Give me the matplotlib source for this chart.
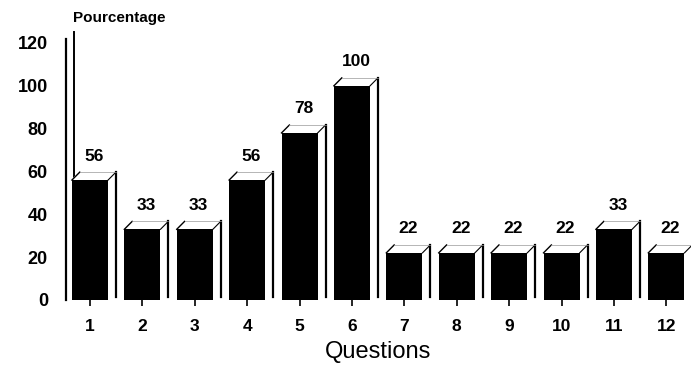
import matplotlib
matplotlib.use("Agg")
import matplotlib.pyplot as plt
import numpy as np

# Pourcentage de réponses par question
questions = ["1", "2", "3", "4", "5", "6", "7", "8", "9", "10", "11", "12"]
pourcentages = [56, 33, 33, 56, 78, 100, 22, 22, 22, 22, 33, 22]
y_ticks = [0, 20, 40, 60, 80, 100, 120]

plt.rcParams["font.family"] = ["Liberation Sans", "DejaVu Sans"]

BAR_W = 0.69     # front face width (x units)
DX = 0.15        # depth offset, x units
DY = 3.7         # depth offset, y units

fig = plt.figure(figsize=(6.91, 3.69), dpi=100)
ax = fig.add_axes([0.0955, 0.187, 0.903, 0.6965])

x = np.arange(1, len(questions) + 1)
ax.bar(x, pourcentages, BAR_W, color="black", zorder=3)

for xi, v in zip(x, pourcentages):
    left, right = xi - BAR_W / 2, xi + BAR_W / 2
    # white side and top faces of the box
    ax.fill([right, right + DX, right + DX, right], [0, DY, v + DY, v],
            color="white", zorder=2, clip_on=False)
    ax.fill([left, left + DX, right + DX, right], [v, v + DY, v + DY, v],
            color="white", zorder=2, clip_on=False)
    # outline strokes
    ax.plot([right + DX, right + DX], [v + DY, 1.5], color="black", lw=1.6,
            zorder=4, clip_on=False)
    ax.plot([left, left + DX], [v, v + DY], color="black", lw=1.0,
            zorder=4, clip_on=False)
    ax.plot([right, right + DX], [v, v + DY], color="black", lw=0.8,
            zorder=4, clip_on=False)
    ax.plot([left + DX, right + DX], [v + DY, v + DY], color="0.6", lw=0.5,
            zorder=4, clip_on=False)
    ax.text(xi + DX / 2, v + DY + 4, str(v), ha="center", va="bottom",
            fontsize=12.5, fontweight="bold", zorder=5)

x0 = 0.542
ax.set_xlim(x0, 12.45)
ax.set_ylim(0, 120)

# back wall edge of the axis
ax.plot([x0 + DX, x0 + DX], [DY, 125], color="black", lw=1.4, clip_on=False, zorder=1)

for side in ["top", "right", "bottom"]:
    ax.spines[side].set_visible(False)
ax.spines["left"].set_linewidth(1.6)
ax.spines["left"].set_bounds(0, 122)

ax.set_yticks(y_ticks)
ax.set_yticklabels([str(t) for t in y_ticks], fontsize=13, fontweight="bold")
ax.tick_params(axis="y", length=0, pad=13)

ax.set_xticks(x)
ax.set_xticklabels(questions, fontsize=12.5, fontweight="bold")
ax.tick_params(axis="x", length=4, width=1.2, direction="out", pad=10)

ax.set_xlabel("Questions", fontsize=17, labelpad=5)
fig.text(0.106, 0.951, "Pourcentage", fontsize=11, fontweight="bold",
         ha="left", va="center")

fig.savefig("out.png", dpi=100, facecolor="white")
